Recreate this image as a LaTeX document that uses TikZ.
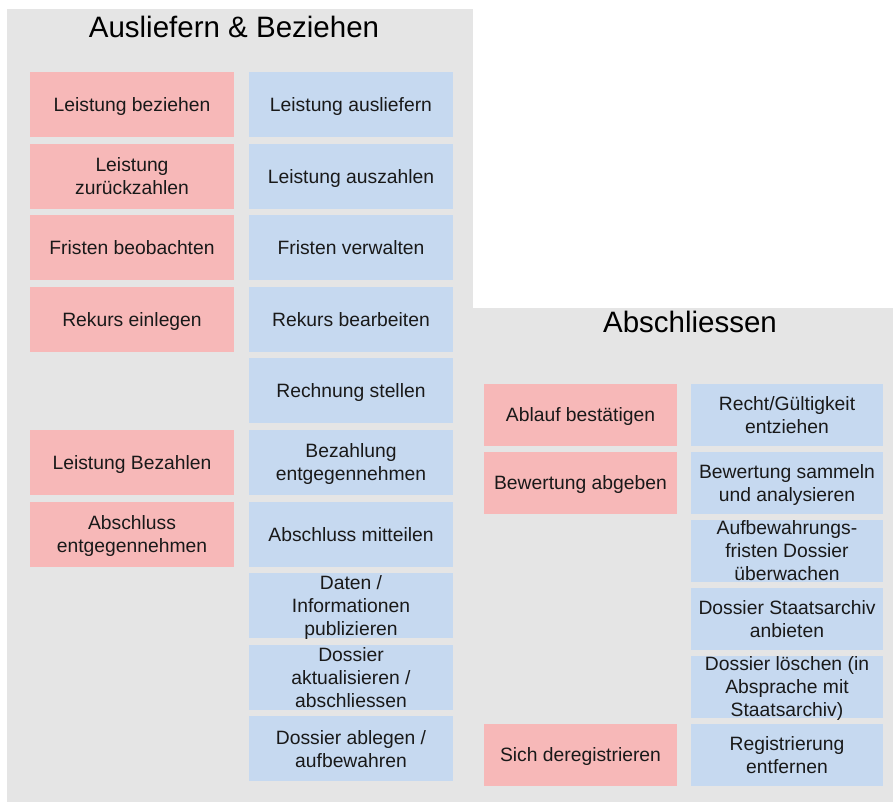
\documentclass[tikz,border=0pt]{standalone}
\usepackage{fontspec}
\setmainfont{Liberation Sans}
\definecolor{panelgray}{RGB}{229,229,229}
\definecolor{rolepink}{RGB}{247,184,184}
\definecolor{roleblue}{RGB}{198,217,240}
\definecolor{labeltext}{RGB}{25,25,25}
\tikzset{
    panel/.style={fill=panelgray, draw=none},
    paneltitle/.style={text=black, font=\fontsize{29.5}{32}\selectfont, inner sep=0pt},
    taskbox/.style={draw=none, inner sep=0pt, align=center, text=labeltext,
        text depth=0pt, font=\fontsize{19.3}{23}\selectfont},
    pinkbox/.style={taskbox, fill=rolepink, minimum width=204pt, minimum height=65pt},
    bluebox/.style={taskbox, fill=roleblue, minimum width=204pt, minimum height=65pt},
    pinksmall/.style={taskbox, fill=rolepink, minimum width=193pt, minimum height=61.5pt},
    bluesmall/.style={taskbox, fill=roleblue, minimum width=192pt, minimum height=61.5pt}
}
\begin{document}
\begin{tikzpicture}[x=1pt, y=-1pt]
    \useasboundingbox (0,0) rectangle (893,802);

    % panels
    \fill[panel] (7,9) rectangle (473,802);
    \fill[panel] (473,308) rectangle (893,802);
    \node[paneltitle] (tdeliver) at (234,27) {Ausliefern \& Beziehen};
    \node[paneltitle] (tclose) at (690,322) {Abschliessen};

    % Ausliefern & Beziehen
    \node[pinkbox] (p1) at (132,104.5) {Leistung beziehen};
    \node[pinkbox] (p2) at (132,176.1) {Leistung\\zur\"uckzahlen};
    \node[pinkbox] (p3) at (132,247.7) {Fristen beobachten};
    \node[pinkbox] (p4) at (132,319.3) {Rekurs einlegen};
    \node[pinkbox] (p6) at (132,462.5) {Leistung Bezahlen};
    \node[pinkbox] (p7) at (132,534.1) {Abschluss\\entgegennehmen};

    \node[bluebox] (b1) at (351,104.5) {Leistung ausliefern};
    \node[bluebox] (b2) at (351,176.1) {Leistung auszahlen};
    \node[bluebox] (b3) at (351,247.7) {Fristen verwalten};
    \node[bluebox] (b4) at (351,319.3) {Rekurs bearbeiten};
    \node[bluebox] (b5) at (351,390.9) {Rechnung stellen};
    \node[bluebox] (b6) at (351,462.5) {Bezahlung\\entgegennehmen};
    \node[bluebox] (b7) at (351,534.1) {Abschluss mitteilen};
    \node[bluebox] (b8) at (351,605.7) {Daten /\\Informationen\\publizieren};
    \node[bluebox] (b9) at (351,677.3) {Dossier\\aktualisieren /\\abschliessen};
    \node[bluebox] (b10) at (351,748.9) {Dossier ablegen /\\aufbewahren};

    % Abschliessen
    \node[pinksmall] (q1) at (580.5,414.75) {Ablauf best\"atigen};
    \node[pinksmall] (q2) at (580.5,482.75) {Bewertung abgeben};
    \node[pinksmall] (q6) at (580.5,754.75) {Sich deregistrieren};

    \node[bluesmall] (c1) at (787,414.75) {Recht/G\"ultigkeit\\entziehen};
    \node[bluesmall] (c2) at (787,482.75) {Bewertung sammeln\\und analysieren};
    \node[bluesmall] (c3) at (787,550.75) {Aufbewahrungs-\\fristen Dossier\\\"uberwachen};
    \node[bluesmall] (c4) at (787,618.75) {Dossier Staatsarchiv\\anbieten};
    \node[bluesmall] (c5) at (787,686.75) {Dossier l\"oschen (in\\Absprache mit\\Staatsarchiv)};
    \node[bluesmall] (c6) at (787,754.75) {Registrierung\\entfernen};
\end{tikzpicture}
\end{document}
